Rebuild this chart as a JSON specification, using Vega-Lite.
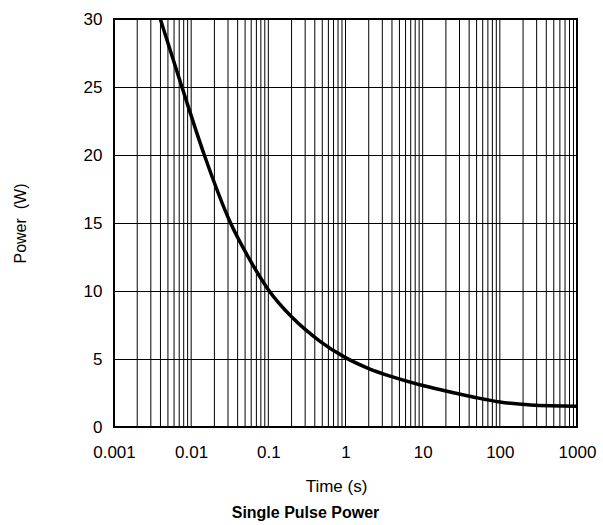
{
  "$schema": "https://vega.github.io/schema/vega-lite/v6.json",
  "width": 463,
  "height": 408,
  "autosize": {"type": "none"},
  "padding": {"left": 114, "top": 19, "right": 26, "bottom": 98},
  "background": "white",
  "config": {
    "view": {"stroke": "#000", "strokeWidth": 2},
    "font": "Liberation Sans",
    "axis": {"labelColor": "#000", "titleColor": "#000", "labelFont": "Liberation Sans", "titleFont": "Liberation Sans"}
  },
  "title": {
    "text": "Single Pulse Power",
    "orient": "bottom",
    "anchor": "middle",
    "frame": "group",
    "dx": -40,
    "offset": 11,
    "fontSize": 16,
    "fontWeight": "bold",
    "font": "Liberation Sans",
    "color": "#000"
  },
  "datasets": {
    "grid": [
      {"t": 0.001}, {"t": 0.002}, {"t": 0.003}, {"t": 0.004}, {"t": 0.005}, {"t": 0.006}, {"t": 0.007}, {"t": 0.008}, {"t": 0.009},
      {"t": 0.01}, {"t": 0.02}, {"t": 0.03}, {"t": 0.04}, {"t": 0.05}, {"t": 0.06}, {"t": 0.07}, {"t": 0.08}, {"t": 0.09},
      {"t": 0.1}, {"t": 0.2}, {"t": 0.3}, {"t": 0.4}, {"t": 0.5}, {"t": 0.6}, {"t": 0.7}, {"t": 0.8}, {"t": 0.9},
      {"t": 1}, {"t": 2}, {"t": 3}, {"t": 4}, {"t": 5}, {"t": 6}, {"t": 7}, {"t": 8}, {"t": 9},
      {"t": 10}, {"t": 20}, {"t": 30}, {"t": 40}, {"t": 50}, {"t": 60}, {"t": 70}, {"t": 80}, {"t": 90},
      {"t": 100}, {"t": 200}, {"t": 300}, {"t": 400}, {"t": 500}, {"t": 600}, {"t": 700}, {"t": 800}, {"t": 900},
      {"t": 1000}
    ],
    "curve": [
      {"t": 0.00398, "P": 30},
      {"t": 0.00759, "P": 25},
      {"t": 0.0148, "P": 20},
      {"t": 0.0324, "P": 15},
      {"t": 0.0562, "P": 12.4},
      {"t": 0.1, "P": 10.1},
      {"t": 0.2, "P": 8.1},
      {"t": 0.468, "P": 6.3},
      {"t": 1, "P": 5.1},
      {"t": 2, "P": 4.3},
      {"t": 3.98, "P": 3.7},
      {"t": 10, "P": 3.05},
      {"t": 20, "P": 2.65},
      {"t": 50, "P": 2.15},
      {"t": 100, "P": 1.84},
      {"t": 251, "P": 1.62},
      {"t": 1000, "P": 1.52}
    ]
  },
  "layer": [
    {
      "data": {"name": "grid"},
      "mark": {"type": "rule", "color": "#000", "strokeWidth": 1},
      "encoding": {
        "x": {
          "field": "t",
          "type": "quantitative",
          "scale": {"type": "log", "domain": [0.001, 1000]},
          "axis": {
            "values": [0.001, 0.01, 0.1, 1, 10, 100, 1000],
            "format": "~g",
            "ticks": false,
            "domain": false,
            "grid": false,
            "labelFontSize": 17,
            "labelPadding": 17,
            "labelFlush": false,
            "labelOverlap": false,
            "title": "Time (s)",
            "titleFontSize": 17,
            "titleFontWeight": "normal",
            "titleX": 222,
            "titleY": 59,
            "titleBaseline": "middle"
          }
        }
      }
    },
    {
      "data": {"name": "curve"},
      "mark": {"type": "line", "color": "#000", "strokeWidth": 3.5, "interpolate": "monotone", "clip": true},
      "encoding": {
        "x": {"field": "t", "type": "quantitative", "scale": {"type": "log", "domain": [0.001, 1000]}},
        "y": {
          "field": "P",
          "type": "quantitative",
          "scale": {"domain": [0, 30]},
          "axis": {
            "values": [0, 5, 10, 15, 20, 25, 30],
            "ticks": false,
            "domain": false,
            "grid": true,
            "gridColor": "#000",
            "gridWidth": 1,
            "gridOpacity": 1,
            "labelFontSize": 17,
            "labelPadding": 12,
            "title": "Power\u00a0 (W)",
            "titleFontSize": 16,
            "titleFontWeight": "normal",
            "titleX": -94,
            "titleBaseline": "middle",
            "titleAngle": -90
          }
        }
      }
    }
  ]
}
